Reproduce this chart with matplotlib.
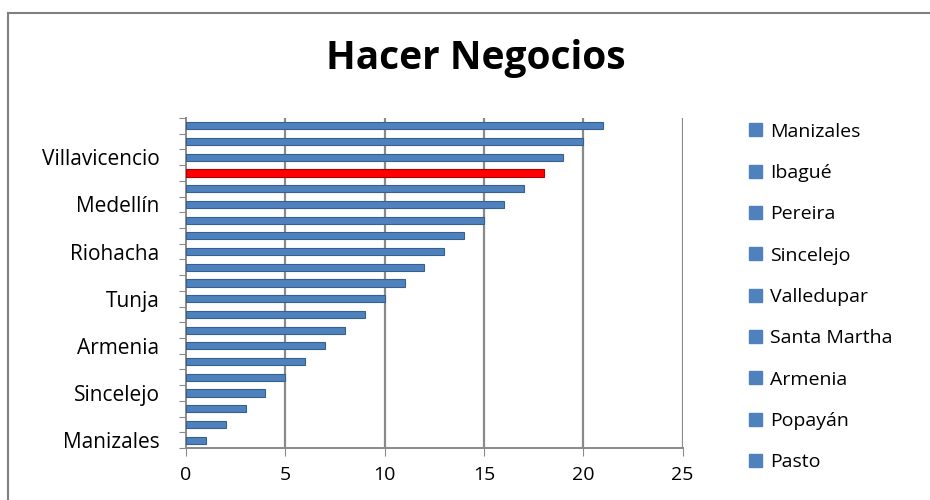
import matplotlib.pyplot as plt
from matplotlib.patches import Patch
from matplotlib.lines import Line2D
import numpy as np

plt.rcParams['font.family'] = ['Open Sans', 'DejaVu Sans']

# ranking order, bottom to top
cities = ['Manizales', 'Ibagué', 'Pereira', 'Sincelejo', 'Valledupar',
          'Santa Martha', 'Armenia', 'Popayán', 'Pasto', 'Tunja',
          'Bogotá', 'Montería', 'Riohacha', 'Neiva', 'Barranquilla',
          'Medellín', 'Bucaramanga', 'Cúcuta', 'Villavicencio', 'Cali',
          'Cartagena']
values = [1, 2, 3, 4, 5, 6, 7, 8, 9, 10, 11, 12, 13, 14, 15, 16, 17, 18, 19, 20, 21]
highlight = 'Cúcuta'
shown_labels = ['Manizales', 'Sincelejo', 'Armenia', 'Tunja', 'Riohacha',
                'Medellín', 'Villavicencio']
legend_items = cities[:9]

blue = '#4f81bd'
red = '#ff0000'

fig = plt.figure(figsize=(9.3, 5.0), dpi=100)
ax = fig.add_axes([0.2, 0.104, 0.534, 0.66])

y = np.arange(len(cities))
cols = [red if c == highlight else blue for c in cities]
edges = ['#b00000' if c == highlight else '#35608f' for c in cities]
ax.barh(y, values, height=0.45, color=cols, edgecolor=edges, linewidth=0.8, zorder=3)

ax.set_xlim(0, 25)
ax.set_ylim(-0.5, len(cities) - 0.5)
ax.set_xticks([0, 5, 10, 15, 20, 25])
for gx in [5, 10, 15, 20, 25]:
    ax.axvline(gx, color='#8a8a8a', lw=1.6, zorder=1)

# tick marks between categories, labels on every third
ax.set_yticks(np.arange(-0.5, len(cities), 1.0))
ax.set_yticklabels([])
ax.set_yticks([cities.index(c) for c in shown_labels], minor=True)
ax.set_yticklabels(shown_labels, minor=True, fontsize=15)
ax.tick_params(axis='y', which='minor', length=0, pad=19)
ax.tick_params(axis='y', which='major', length=5, color='#8a8a8a')
ax.tick_params(axis='x', length=6, color='#8a8a8a', labelsize=14, pad=7)

for s in ['top', 'right']:
    ax.spines[s].set_visible(False)
for s in ['left', 'bottom']:
    ax.spines[s].set_color('#8a8a8a')
    ax.spines[s].set_linewidth(1.4)

fig.text(0.512, 0.884, 'Hacer Negocios', ha='center', va='center',
         fontsize=28, fontweight='bold')

handles = [Patch(facecolor=blue, edgecolor=blue) for _ in legend_items]
fig.legend(handles, legend_items, loc='upper left', bbox_to_anchor=(0.797, 0.77),
           frameon=False, fontsize=14, handlelength=0.65, handleheight=0.65,
           handletextpad=0.45, labelspacing=1.2, borderaxespad=0)

# outer chart frame (only top and left visible)
fig.add_artist(Line2D([0.0086, 1.0], [0.974, 0.974], color='#808080', lw=1.5))
fig.add_artist(Line2D([0.0086, 0.0086], [0.0, 0.974], color='#808080', lw=1.5))

fig.savefig('out.png', dpi=100)
